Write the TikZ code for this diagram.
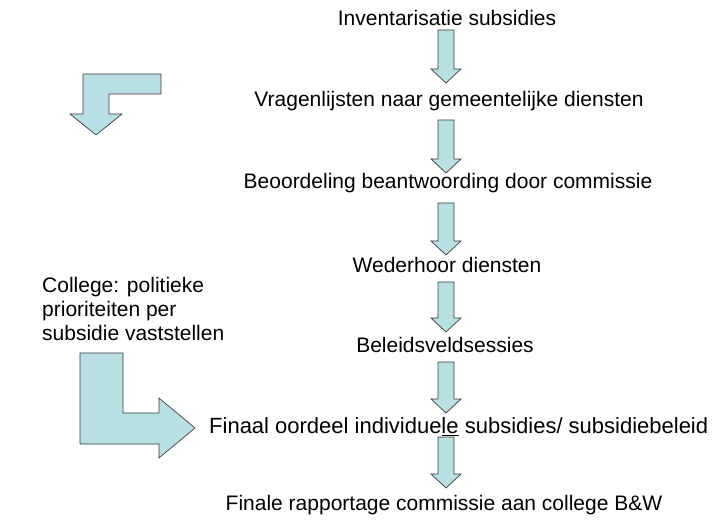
\documentclass[tikz,border=0pt]{standalone}
\usepackage{fontspec}
\setmainfont{Liberation Sans}
\definecolor{arrowfill}{RGB}{184,223,227}
\definecolor{arrowline}{RGB}{60,60,60}
\newcommand{\blockdown}[3]{%
  \draw[blockarrow] (#1-8,#2) -- (#1+8,#2) -- (#1+8,#3-14) -- (#1+15,#3-14)
    -- (#1,#3) -- (#1-15,#3-14) -- (#1-8,#3-14) -- cycle;}
\begin{document}
\begin{tikzpicture}[x=1pt,y=-1pt,
  blockarrow/.style={fill=arrowfill,draw=arrowline,line width=0.7pt,line join=miter},
  steptext/.style={inner sep=0pt,font=\fontsize{21}{25}\selectfont},
  sidetext/.style={inner sep=0pt,align=left,font=\fontsize{21}{24}\selectfont}]
\useasboundingbox (0,0) rectangle (715,521);
% step texts
\node[steptext] (t1) at (447,18) {Inventarisatie subsidies};
\node[steptext] (t2) at (449,101) {Vragenlijsten naar gemeentelijke diensten};
\node[steptext] (t3) at (448,183) {Beoordeling beantwoording door commissie};
\node[steptext] (t4) at (447,265) {Wederhoor diensten};
\node[steptext] (t5) at (445,345) {Beleidsveldsessies};
\node[steptext,anchor=west,font=\fontsize{22}{26}\selectfont] (t6) at (209,427) {Finaal oordeel individue\underline{le} subsidies/ subsidiebeleid};
\node[steptext] (t7) at (444,505) {Finale rapportage commissie aan college B\&W};
% side text
\node[sidetext,anchor=north west] (side) at (42,277) {College: politieke\\prioriteiten per\\subsidie vaststellen};
% central block arrows
\blockdown{446}{30}{83}
\blockdown{446}{120}{173}
\blockdown{446}{203}{255}
\blockdown{446}{282}{332}
\blockdown{446}{362}{413}
\blockdown{446}{437}{488}
% top-left bent arrow
\draw[blockarrow] (83,74) -- (161,74) -- (161,94) -- (109,94) -- (109,114)
  -- (122,114) -- (96,135) -- (70,114) -- (83,114) -- cycle;
% big L arrow
\draw[blockarrow] (80,353) -- (123,353) -- (123,413) -- (159,413) -- (159,398)
  -- (195,428) -- (159,458) -- (159,444) -- (80,444) -- cycle;
\end{tikzpicture}
\end{document}
